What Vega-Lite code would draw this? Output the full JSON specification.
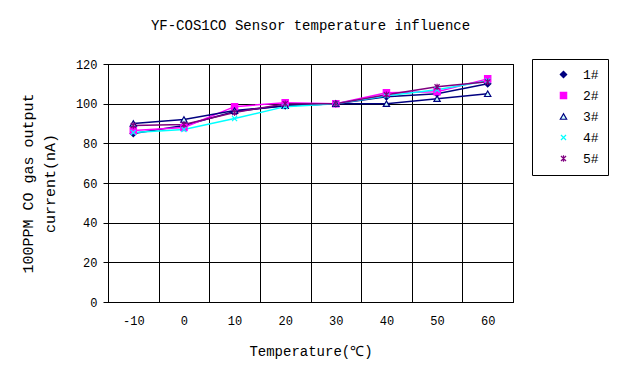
{
  "$schema": "https://vega.github.io/schema/vega-lite/v6.json",
  "width": 405,
  "height": 238,
  "autosize": {"type": "none"},
  "padding": {"left": 108, "top": 64, "right": 117, "bottom": 73},
  "background": "white",
  "title": {
    "text": "YF-COS1CO Sensor temperature influence",
    "font": "Liberation Mono",
    "fontSize": 14,
    "fontWeight": "normal",
    "color": "black",
    "anchor": "middle",
    "offset": 25
  },
  "data": {
    "values": [
      {"t": -10, "s": "1#", "v": 85}, {"t": 0, "s": "1#", "v": 89}, {"t": 10, "s": "1#", "v": 96}, {"t": 20, "s": "1#", "v": 99},
      {"t": 30, "s": "1#", "v": 100}, {"t": 40, "s": "1#", "v": 103.5}, {"t": 50, "s": "1#", "v": 105}, {"t": 60, "s": "1#", "v": 110},
      {"t": -10, "s": "2#", "v": 86.5}, {"t": 0, "s": "2#", "v": 88}, {"t": 10, "s": "2#", "v": 98.5}, {"t": 20, "s": "2#", "v": 100.5},
      {"t": 30, "s": "2#", "v": 100}, {"t": 40, "s": "2#", "v": 105.5}, {"t": 50, "s": "2#", "v": 106}, {"t": 60, "s": "2#", "v": 112.5},
      {"t": -10, "s": "3#", "v": 90}, {"t": 0, "s": "3#", "v": 92}, {"t": 10, "s": "3#", "v": 96.5}, {"t": 20, "s": "3#", "v": 99},
      {"t": 30, "s": "3#", "v": 100}, {"t": 40, "s": "3#", "v": 100}, {"t": 50, "s": "3#", "v": 102.5}, {"t": 60, "s": "3#", "v": 105},
      {"t": -10, "s": "4#", "v": 85.5}, {"t": 0, "s": "4#", "v": 87}, {"t": 10, "s": "4#", "v": 92.5}, {"t": 20, "s": "4#", "v": 98.5},
      {"t": 30, "s": "4#", "v": 100}, {"t": 40, "s": "4#", "v": 104}, {"t": 50, "s": "4#", "v": 107}, {"t": 60, "s": "4#", "v": 111.5},
      {"t": -10, "s": "5#", "v": 89}, {"t": 0, "s": "5#", "v": 89.5}, {"t": 10, "s": "5#", "v": 95.5}, {"t": 20, "s": "5#", "v": 100},
      {"t": 30, "s": "5#", "v": 100}, {"t": 40, "s": "5#", "v": 104.5}, {"t": 50, "s": "5#", "v": 108.5}, {"t": 60, "s": "5#", "v": 111}
    ]
  },
  "encoding": {
    "x": {
      "field": "t",
      "type": "ordinal",
      "sort": "ascending",
      "bandPosition": 0.5,
      "scale": {"type": "band", "paddingInner": 0, "paddingOuter": 0},
      "axis": {
        "title": "Temperature(℃)",
        "labelAngle": 0,
        "tickBand": "extent",
        "ticks": false,
        "grid": true,
        "labelPadding": 13,
        "titlePadding": 18,
        "titleFontSize": 14
      }
    },
    "y": {
      "field": "v",
      "type": "quantitative",
      "scale": {"domain": [0, 120], "nice": false},
      "axis": {
        "values": [0, 20, 40, 60, 80, 100, 120],
        "title": ["100PPM CO gas output", "current(nA)"],
        "grid": true,
        "tickSize": 5,
        "labelPadding": 6,
        "titlePadding": 18,
        "titleFontSize": 15,
        "titleLineHeight": 22
      }
    }
  },
  "layer": [
    {
      "mark": {"type": "line", "strokeWidth": 1.5},
      "encoding": {
        "stroke": {
          "field": "s",
          "type": "nominal",
          "title": null,
          "scale": {"domain": ["1#", "2#", "3#", "4#", "5#"], "range": ["#000080", "#FF00FF", "#000080", "#00FFFF", "#800080"]}
        }
      }
    },
    {
      "mark": {"type": "point", "filled": false, "size": 40, "strokeWidth": 1.2, "opacity": 1},
      "encoding": {
        "stroke": {"field": "s", "type": "nominal", "title": null},
        "fill": {
          "field": "s",
          "type": "nominal",
          "title": null,
          "scale": {"domain": ["1#", "2#", "3#", "4#", "5#"], "range": ["#000080", "#FF00FF", "#CCFFFF", "transparent", "transparent"]}
        },
        "shape": {
          "field": "s",
          "type": "nominal",
          "title": null,
          "scale": {
            "domain": ["1#", "2#", "3#", "4#", "5#"],
            "range": ["diamond", "square", "triangle-up", "M-0.8,-0.8L0.8,0.8M-0.8,0.8L0.8,-0.8", "M-0.8,-0.8L0.8,0.8M-0.8,0.8L0.8,-0.8M0,-1L0,1"]
          }
        }
      }
    }
  ],
  "config": {
    "font": "Liberation Mono",
    "view": {"stroke": "black", "strokeWidth": 1},
    "axis": {
      "gridColor": "black",
      "gridOpacity": 1,
      "gridWidth": 1,
      "domainColor": "black",
      "tickColor": "black",
      "labelColor": "black",
      "titleColor": "black",
      "labelFont": "Liberation Mono",
      "titleFont": "Liberation Mono",
      "labelFontSize": 12,
      "titleFontWeight": "normal"
    },
    "legend": {
      "orient": "none",
      "legendX": 424,
      "legendY": -5,
      "strokeColor": "black",
      "fillColor": "white",
      "padding": 9,
      "rowPadding": 7,
      "labelFont": "Liberation Mono",
      "labelFontSize": 13,
      "labelColor": "black",
      "symbolSize": 40,
      "symbolStrokeWidth": 1.2,
      "symbolOffset": 16,
      "labelOffset": 13
    }
  }
}
